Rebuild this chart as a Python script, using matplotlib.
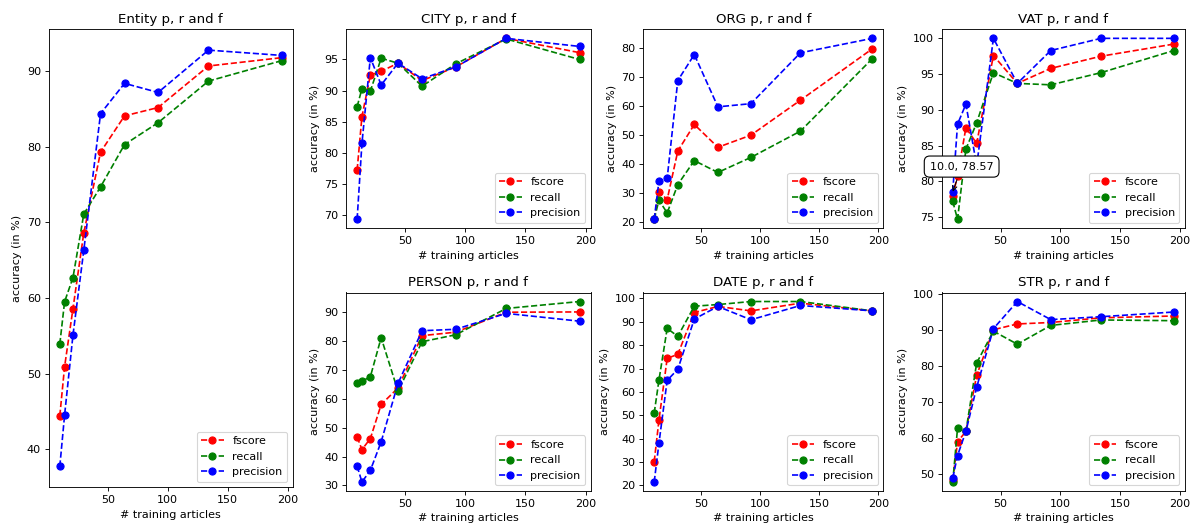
import matplotlib
matplotlib.use("Agg")
import matplotlib.pyplot as plt

# number of training articles used for each run
n_articles = [10, 14, 21, 30, 44, 64, 92, 134, 195]

entity_f = [44.4, 50.9, 58.6, 68.6, 79.3, 84.1, 85.2, 90.7, 91.8]
entity_r = [53.9, 59.5, 62.7, 71.1, 74.7, 80.3, 83.2, 88.7, 91.4]
entity_p = [37.7, 44.5, 55.1, 66.3, 84.4, 88.4, 87.2, 92.8, 92.1]

city_f = [77.2, 85.8, 92.5, 93.1, 94.4, 91.6, 93.8, 98.4, 96.1]
city_r = [87.4, 90.3, 89.9, 95.2, 94.4, 90.7, 94.3, 98.3, 95.0]
city_p = [69.3, 81.5, 95.3, 90.9, 94.4, 91.9, 93.8, 98.4, 97.1]

org_f = [20.8, 30.4, 27.6, 44.4, 53.6, 45.7, 49.9, 62.0, 79.8]
org_r = [20.8, 27.4, 23.0, 32.8, 41.1, 37.0, 42.2, 51.3, 76.4]
org_p = [20.8, 33.9, 35.0, 68.8, 77.8, 59.7, 60.8, 78.4, 83.4]

vat_f = [77.9, 80.8, 87.5, 85.3, 97.6, 93.7, 95.8, 97.5, 99.2]
vat_r = [77.2, 74.7, 84.5, 88.2, 95.2, 93.7, 93.5, 95.2, 98.3]
vat_p = [78.57, 88.0, 90.8, 82.2, 100.0, 93.7, 98.3, 100.0, 100.0]

person_f = [46.8, 42.4, 46.2, 58.0, 63.7, 81.8, 83.0, 89.9, 90.0]
person_r = [65.3, 66.0, 67.6, 81.1, 62.6, 79.7, 82.1, 91.2, 93.6]
person_p = [36.7, 31.2, 35.2, 45.1, 65.3, 83.5, 84.0, 89.5, 86.8]

date_f = [30.2, 47.9, 74.4, 76.1, 94.0, 96.6, 94.7, 98.0, 94.7]
date_r = [51.0, 65.0, 87.2, 83.8, 96.7, 97.4, 98.7, 98.7, 94.7]
date_p = [21.5, 38.0, 65.0, 69.7, 91.2, 96.6, 90.9, 97.0, 94.7]

str_f = [48.4, 59.0, 61.9, 77.4, 90.0, 91.6, 92.0, 93.3, 93.8]
str_r = [47.9, 62.8, 61.9, 80.8, 89.6, 86.0, 91.2, 92.7, 92.5]
str_p = [49.0, 55.2, 61.9, 74.1, 90.3, 97.8, 92.8, 93.6, 94.9]

x_ticks = [50, 100, 150, 200]
entity_yticks = [40, 50, 60, 70, 80, 90]
city_yticks = [70, 75, 80, 85, 90, 95]
org_yticks = [20, 30, 40, 50, 60, 70, 80]
vat_yticks = [75, 80, 85, 90, 95, 100]
person_yticks = [30, 40, 50, 60, 70, 80, 90]
date_yticks = [20, 30, 40, 50, 60, 70, 80, 90, 100]
str_yticks = [50, 60, 70, 80, 90, 100]

W, H = 1196, 527
DPI = 80
fig = plt.figure(figsize=(W / DPI, H / DPI), dpi=DPI)


def box(left, top, right, bottom):
    # pixel box -> figure fraction rect
    return [left / W, 1 - bottom / H, (right - left) / W, (bottom - top) / H]


panels = [
    ("Entity", entity_f, entity_r, entity_p, entity_yticks, box(48.7, 29.3, 292.7, 487.3)),
    ("CITY", city_f, city_r, city_p, city_yticks, box(346, 29.3, 590.7, 228.3)),
    ("ORG", org_f, org_r, org_p, org_yticks, box(643.3, 29.3, 883.3, 228.3)),
    ("VAT", vat_f, vat_r, vat_p, vat_yticks, box(941.7, 29.3, 1185, 228.3)),
    ("PERSON", person_f, person_r, person_p, person_yticks, box(346, 292.5, 590.7, 491)),
    ("DATE", date_f, date_r, date_p, date_yticks, box(643.3, 292.5, 883.3, 491)),
    ("STR", str_f, str_r, str_p, str_yticks, box(941.7, 292.5, 1185, 491)),
]

axes = {}
for name, f, r, p, yticks, rect in panels:
    ax = fig.add_axes(rect)
    ax.plot(n_articles, f, "o--", color="r", ms=6.4, label="fscore")
    ax.plot(n_articles, r, "o--", color="g", ms=6.4, label="recall")
    ax.plot(n_articles, p, "o--", color="b", ms=6.4, label="precision")
    ax.set_title(name + " p, r and f")
    ax.set_xlabel("# training articles")
    ax.set_ylabel("accuracy (in %)")
    ax.set_xticks(x_ticks)
    ax.set_yticks(yticks)
    ax.legend(loc="lower right")
    axes[name] = ax

# hover tooltip left on the first VAT precision point
ax = axes["VAT"]
ax.annotate(
    f"{n_articles[0]:.1f}, {vat_p[0]:.2f}",
    xy=(n_articles[0], vat_p[0]),
    xytext=(8, 22.5), textcoords="offset points",
    ha="center", va="center",
    bbox=dict(boxstyle="round,pad=.5", fc="white", ec="k"),
    arrowprops=dict(arrowstyle="->", connectionstyle="arc3", shrinkB=0, ec="k"),
    zorder=10,
)

fig.savefig("out.png", dpi=DPI)
